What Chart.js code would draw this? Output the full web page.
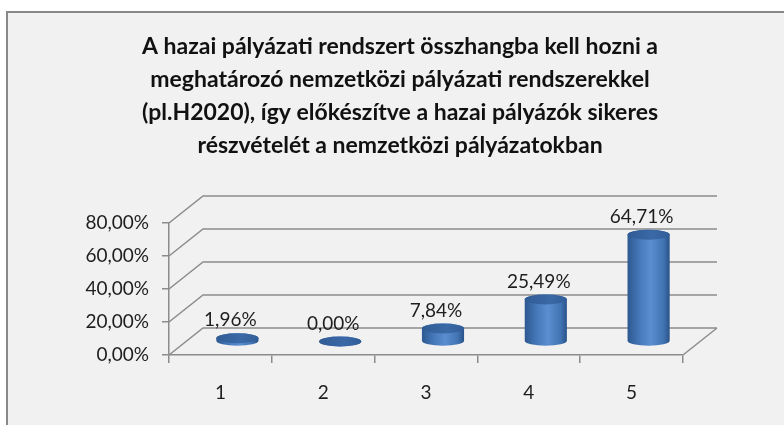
<!DOCTYPE html>
<html>
<head>
<meta charset="utf-8">
<script src="https://cdn.jsdelivr.net/npm/chart.js@4.4.1/dist/chart.umd.min.js"></script>
<style>
  html, body { margin: 0; padding: 0; background: #fff; }
  canvas { display: block; }
</style>
</head>
<body>
<canvas id="chart" width="784" height="425"></canvas>
<script>
// data
const categories = ['1', '2', '3', '4', '5'];
const shares = [1.96, 0.00, 7.84, 25.49, 64.71];
const yTicks = { min: 0, max: 80, step: 20 };
const titleLines = [
  'A hazai pályázati rendszert összhangba kell hozni a',
  'meghatározó nemzetközi pályázati rendszerekkel',
  '(pl.H2020), így előkészítve a hazai pályázók sikeres',
  'részvételét a nemzetközi pályázatokban'
];

// fake 3d depth of the plot box
const DEPTH_X = 34, DEPTH_Y = 27;
const GRID = '#8c8c8c';
const TEXT = '#1e1e1e';
const FONT = 'Lato';

function pct(v) {
  return Number(v).toFixed(2).replace('.', ',') + '%';
}

const frame = {
  id: 'frame',
  beforeDraw(chart) {
    const ctx = chart.ctx;
    ctx.save();
    ctx.fillStyle = '#fff';
    ctx.fillRect(0, 0, chart.width, chart.height);
    ctx.fillStyle = '#f1f1f1';
    ctx.fillRect(6, 11, chart.width - 6, chart.height - 11);
    ctx.strokeStyle = '#888';
    ctx.lineWidth = 2;
    ctx.beginPath();
    ctx.moveTo(7, chart.height);
    ctx.lineTo(7, 12);
    ctx.lineTo(chart.width, 12);
    ctx.stroke();
    ctx.restore();
  }
};

// back wall gridlines + floor edge
const walls = {
  id: 'walls',
  beforeDatasetsDraw(chart) {
    const { ctx, chartArea: a, scales: { y } } = chart;
    ctx.save();
    ctx.strokeStyle = GRID;
    ctx.lineWidth = 1.5;
    y.ticks.forEach(t => {
      const py = y.getPixelForValue(t.value);
      ctx.beginPath();
      ctx.moveTo(a.left, py);
      ctx.lineTo(a.left + DEPTH_X, py - DEPTH_Y);
      ctx.lineTo(a.right + DEPTH_X, py - DEPTH_Y);
      ctx.stroke();
    });
    ctx.beginPath();
    ctx.moveTo(a.right, a.bottom);
    ctx.lineTo(a.right + DEPTH_X, a.bottom - DEPTH_Y);
    ctx.stroke();
    ctx.restore();
  }
};

// bars drawn as cylinders standing in the middle of the depth
const cylinders = {
  id: 'cylinders',
  afterDatasetsDraw(chart) {
    const ctx = chart.ctx;
    const meta = chart.getDatasetMeta(0);
    const values = chart.data.datasets[0].data;
    ctx.save();
    meta.data.forEach((bar, i) => {
      const cx = bar.x + DEPTH_X / 2;
      const rx = bar.width / 2, ry = 5;
      const top = bar.y - DEPTH_Y / 2;
      const base = bar.base - DEPTH_Y / 2;

      const g = ctx.createLinearGradient(cx - rx, 0, cx + rx, 0);
      g.addColorStop(0, '#2d5991');
      g.addColorStop(0.3, '#4779bb');
      g.addColorStop(0.55, '#5a8ed0');
      g.addColorStop(0.85, '#4274b3');
      g.addColorStop(1, '#2a5289');
      ctx.fillStyle = g;
      ctx.beginPath();
      ctx.moveTo(cx - rx, top);
      ctx.lineTo(cx - rx, base);
      ctx.ellipse(cx, base, rx, ry, 0, Math.PI, 0, true);
      ctx.lineTo(cx + rx, top);
      ctx.ellipse(cx, top, rx, ry, 0, 0, Math.PI, true);
      ctx.closePath();
      ctx.fill();

      const tg = ctx.createLinearGradient(cx - rx, 0, cx + rx, 0);
      tg.addColorStop(0, '#305c95');
      tg.addColorStop(0.6, '#3b69a6');
      tg.addColorStop(1, '#315e98');
      ctx.fillStyle = tg;
      ctx.beginPath();
      ctx.ellipse(cx, top, rx, ry, 0, 0, Math.PI * 2);
      ctx.fill();

      ctx.fillStyle = TEXT;
      ctx.font = '19px ' + FONT;
      ctx.textAlign = 'center';
      ctx.textBaseline = 'middle';
      ctx.fillText(pct(values[i]), bar.x + 10, top - 18);
    });
    ctx.restore();
  }
};

new Chart(document.getElementById('chart'), {
  type: 'bar',
  data: {
    labels: categories,
    datasets: [{
      data: shares,
      backgroundColor: 'rgba(0,0,0,0)',
      borderWidth: 0,
      categoryPercentage: 1,
      barPercentage: 0.41
    }]
  },
  options: {
    responsive: false,
    animation: false,
    layout: { padding: { left: 16, top: 0, right: 0, bottom: 0 } },
    plugins: {
      legend: { display: false },
      tooltip: { enabled: false },
      title: {
        display: true,
        text: titleLines,
        color: '#111',
        font: { family: FONT, size: 23, weight: 'bold', lineHeight: 33 / 23 },
        padding: { top: 30, bottom: 61 }
      }
    },
    scales: {
      x: {
        grid: { display: true, drawOnChartArea: false, offset: true, tickLength: 8, color: GRID, lineWidth: 1.5 },
        border: { color: GRID, width: 1.5 },
        ticks: { color: TEXT, font: { family: FONT, size: 19 }, padding: 18 },
        afterFit(s) { s.height = 70; }
      },
      y: {
        min: yTicks.min,
        max: yTicks.max,
        ticks: { stepSize: yTicks.step, callback: v => pct(v), color: TEXT, font: { family: FONT, size: 19 }, padding: 13 },
        grid: { drawOnChartArea: false, tickLength: 7, color: GRID, lineWidth: 1.5 },
        border: { color: GRID, width: 1.5 },
        afterFit(s) { s.width = 153; }
      },
      yRight: {
        position: 'right',
        display: true,
        grid: { display: false },
        border: { display: false },
        ticks: { display: false },
        afterFit(s) { s.width = 101; }
      }
    }
  },
  plugins: [frame, walls, cylinders]
});
</script>
</body>
</html>
